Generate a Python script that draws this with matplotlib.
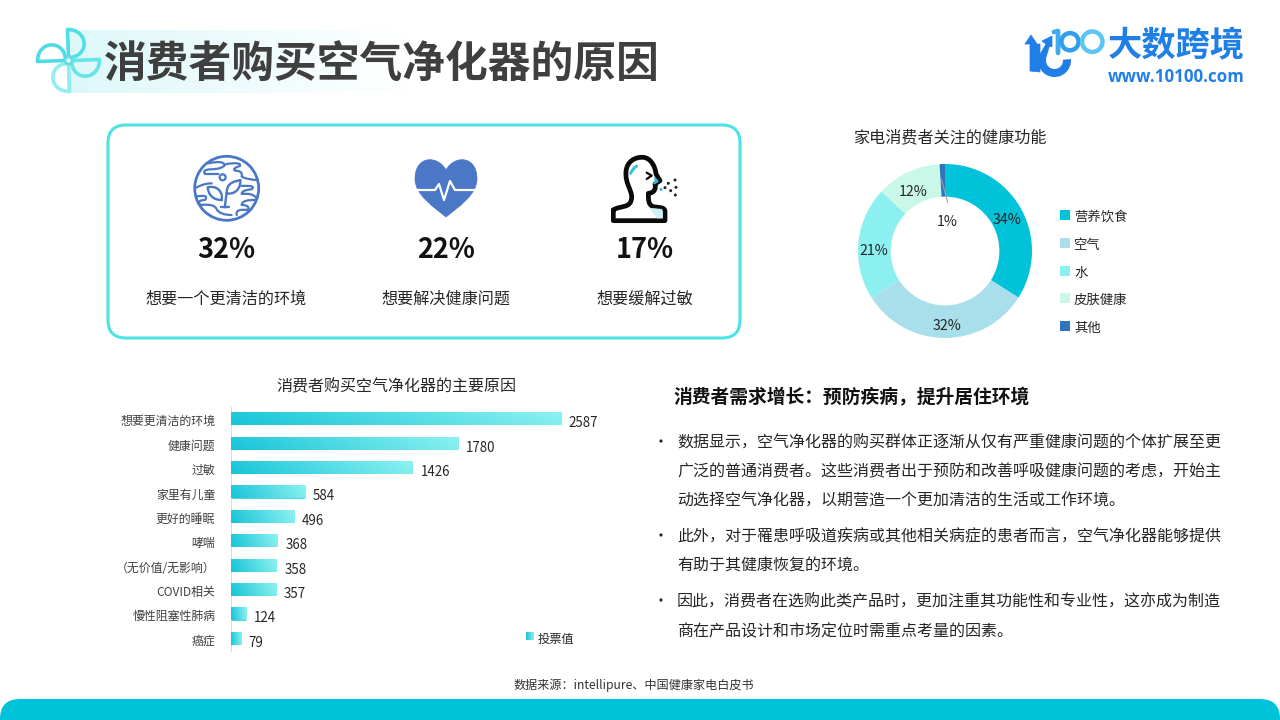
import matplotlib
matplotlib.use("Agg")
import matplotlib.pyplot as plt
import numpy as np
from matplotlib.colors import LinearSegmentedColormap
from matplotlib.patches import Circle, FancyBboxPatch, PathPatch, Rectangle, Wedge
from matplotlib.path import Path
from matplotlib.transforms import Affine2D, ScaledTranslation

plt.rcParams["font.family"] = ["Noto Sans CJK SC", "DejaVu Sans"]

W, H = 1280, 720

title = "消费者购买空气净化器的原因"
kpi_values = ["32%", "22%", "17%"]
kpi_captions = ["想要一个更清洁的环境", "想要解决健康问题", "想要缓解过敏"]

bar_title = "消费者购买空气净化器的主要原因"
bar_labels = ["想要更清洁的环境", "健康问题", "过敏", "家里有儿童", "更好的睡眠", "哮喘",
              "（无价值/无影响）", "COVID相关", "慢性阻塞性肺病", "癌症"]
bar_values = [2587, 1780, 1426, 584, 496, 368, 358, 357, 124, 79]

pie_title = "家电消费者关注的健康功能"
pie_labels = ["营养饮食", "空气", "水", "皮肤健康", "其他"]
pie_values = [34, 32, 21, 12, 1]
pie_colors = ["#00C3D9", "#A9DFEA", "#8DF0F0", "#C9F7E8", "#2F75BE"]

heading = "消费者需求增长：预防疾病，提升居住环境"
body_lines = [
    "数据显示，空气净化器的购买群体正逐渐从仅有严重健康问题的个体扩展至更",
    "广泛的普通消费者。这些消费者出于预防和改善呼吸健康问题的考虑，开始主",
    "动选择空气净化器，以期营造一个更加清洁的生活或工作环境。",
    "此外，对于罹患呼吸道疾病或其他相关病症的患者而言，空气净化器能够提供",
    "有助于其健康恢复的环境。",
    "因此，消费者在选购此类产品时，更加注重其功能性和专业性，这亦成为制造",
    "商在产品设计和市场定位时需重点考量的因素。",
]
body_y = [443, 472, 501, 537, 566, 602, 632]
bullet_y = [441, 535, 600]
source = "数据来源：intellipure、中国健康家电白皮书"

TEXT = "#262626"
BLUE = "#4A78C6"
LOGO = "#1F7FE6"

bar_cmap = LinearSegmentedColormap.from_list("bar", ["#16C4D8", "#8DF2F0"])
band_cmap = LinearSegmentedColormap.from_list("band", ["#DDF8F9", "#FFFFFF"])

fig = plt.figure(figsize=(W / 100, H / 100), dpi=100, facecolor="white")


def px_axes(x0, y0, x1, y1):
    # axes placed by pixel box, y counted from the top of the image
    return fig.add_axes([x0 / W, 1 - y1 / H, (x1 - x0) / W, (y1 - y0) / H])


# page overlay in pixel coordinates
bg = fig.add_axes([0, 0, 1, 1])
bg.set_xlim(0, W)
bg.set_ylim(H, 0)
bg.axis("off")


def stroke(verts, codes=None, color=BLUE, lw=2.0, fill="none", z=3, clip=None):
    p = PathPatch(Path(verts, codes), facecolor=fill, edgecolor=color, linewidth=lw,
                  capstyle="round", joinstyle="round", zorder=z)
    bg.add_patch(p)
    if clip is not None:
        p.set_clip_path(clip)
    return p


def wavy(points, **kw):
    # smooth stroke through control points, drawn as quadratic pieces
    codes = [Path.MOVETO] + [Path.CURVE3] * (len(points) - 1)
    if len(points) % 2 == 0:
        codes[-1] = Path.LINETO
    return stroke(points, codes, **kw)


# title band and fan icon
bg.imshow(np.linspace(0, 1, 256).reshape(1, -1), extent=(67, 410, 93, 30), cmap=band_cmap,
          aspect="auto", zorder=1)
bg.set_xlim(0, W)
bg.set_ylim(H, 0)
C, L = Path.CURVE4, Path.LINETO
blade = [(0, -3), (-1, -31), (21, -31), (21, -3), (0, -3)]
blade_codes = [Path.MOVETO, L, C, C, C]
fan_colors = ["#52DEE6", "#66E4EA", "#8FEEF0", "#4FDBE4"]
for k, col in enumerate(fan_colors):
    tr = Affine2D().rotate_deg(90 * k).translate(68.5, 60.5)
    stroke(tr.transform(np.array(blade, float)), blade_codes, color=col, lw=2.6, z=2)
bg.add_patch(Circle((68.5, 60.5), 3.5, facecolor="white", edgecolor="#5FE0E8", lw=2, zorder=3))
bg.text(104, 64, title, fontsize=30.8, fontweight="bold", color="#3F3F3F", va="center", ha="left", zorder=4)

# logo
bg.add_patch(Wedge((1054.5, 60.5), 16.5, -5, 200, width=8, facecolor=LOGO, zorder=3))
stroke([(1025, 44), (1031, 35), (1037, 44), (1040, 44), (1040, 72), (1030, 71), (1030, 44), (1025, 44)],
       color=LOGO, fill=LOGO, lw=0.5)
stroke([(1038.5, 57), (1046, 44), (1042, 41), (1052, 36), (1052, 47), (1049.5, 46), (1046, 57), (1038.5, 57)],
       color=LOGO, fill=LOGO, lw=0.5)
stroke([(1054, 32), (1058, 31), (1058, 53)], color="#3FAAF0", lw=3.4)
for cx, r, col in [(1070, 8.6, "#2F9FEE"), (1092.3, 10.2, "#5CC5F5")]:
    bg.add_patch(Circle((cx, 41.7), r, facecolor="none", edgecolor=col, lw=3.2, zorder=3))
bg.text(1176, 45, "大数跨境", fontsize=24.7, fontweight="bold", color=LOGO, ha="center", va="center")
bg.text(1176.5, 76.5, "www.10100.com", fontsize=12.2, fontweight="bold", color=LOGO, ha="center", va="center",
        family=["Open Sans", "DejaVu Sans"])

# KPI box
bg.add_patch(FancyBboxPatch((108, 125), 632, 213, boxstyle="round,pad=0,rounding_size=18",
                            facecolor="white", edgecolor="#4FE2E4", lw=2.2, zorder=2))
for x, val, cap in zip([226, 446, 645], kpi_values, kpi_captions):
    bg.text(x, 250, val, fontsize=19.5, fontweight="bold", color="#111111", ha="center", va="center", zorder=4)
    bg.text(x, 299.5, cap, fontsize=11.6, color=TEXT, ha="center", va="center", zorder=4)


def gz(x, y):
    # globe zoom crop to page pixels
    return (x / 3 + 185, y / 3 + 150)


def hz(x, y):
    # head zoom crop to page pixels
    return (x / 3 + 600, y / 3 + 150)


# globe icon
globe = Circle((226.7, 188.3), 32, facecolor="white", edgecolor=BLUE, lw=2, zorder=3)
bg.add_patch(globe)
for pts in [
    [(70, 40), (115, 30), (120, 45), (110, 58), (75, 58), (50, 60), (60, 72), (85, 72), (100, 72)],
    [(125, 42), (170, 35), (165, 48), (140, 55), (150, 62), (175, 62), (170, 80), (190, 90), (220, 90)],
    [(170, 108), (215, 105), (200, 118), (170, 120), (170, 132), (205, 128), (215, 145)],
    [(30, 115), (55, 100), (80, 100)],
    [(30, 140), (75, 132), (60, 150), (35, 150), (45, 165), (90, 160), (95, 178), (105, 195), (140, 195)],
    [(215, 150), (170, 148), (170, 165), (195, 165), (190, 180), (150, 175), (155, 195)],
]:
    wavy([gz(*p) for p in pts], lw=1.6, z=4, clip=globe)
bg.add_patch(Circle(gz(113, 82), 3, facecolor="none", edgecolor=BLUE, lw=1.6, zorder=4))
stroke([gz(120, 172), gz(121, 150), gz(125, 130)], [Path.MOVETO, Path.CURVE3, Path.CURVE3], lw=1.7, z=4)
for leaf in ([gz(125, 130), gz(125, 95), gz(150, 95), gz(166, 90), gz(168, 115), gz(150, 135), gz(125, 130)],
             [gz(110, 150), gz(85, 150), gz(70, 135), gz(68, 112), gz(95, 105), gz(115, 125), gz(110, 150)]):
    stroke(leaf, [Path.MOVETO, C, C, C, C, C, C], lw=1.7, z=4)
stroke([gz(108, 172), gz(132, 172)], lw=1.7, z=4)

# heart icon
heart = [(446, 170), (438, 155), (415, 155), (415, 179), (415, 195), (435, 208), (446, 217),
         (457, 208), (477, 195), (477, 179), (477, 155), (454, 155), (446, 170)]
stroke(heart, [Path.MOVETO] + [C] * 12, color=BLUE, fill=BLUE, lw=0.5)
stroke([(415, 190), (435, 190), (439, 184), (444, 200), (450, 181), (455, 190), (477, 190)],
       color="white", lw=1.6, z=4)

# head icon
head = [(40, 180),
        (60, 165), (95, 178), (95, 140),
        (95, 120), (75, 100), (78, 65),
        (80, 35), (105, 20), (130, 22),
        (150, 24), (165, 45), (168, 72),
        (180, 92), (165, 102),
        (168, 115), (165, 128), (145, 130),
        (145, 150), (145, 165), (160, 170),
        (175, 173), (195, 170), (195, 185),
        (195, 212), (40, 212), (40, 180)]
head_codes = [Path.MOVETO] + [C] * 12 + [L, L] + [C] * 9 + [L, L, L]
stroke([hz(*p) for p in head], head_codes, color="#0A0A0A", lw=3.4, fill="white", z=4)
stroke([hz(150, 175), hz(186, 178), hz(188, 204), hz(172, 204), hz(150, 175)], color="#CDF2F6", fill="#CDF2F6",
       lw=0.5, z=5)
stroke([hz(165, 85), hz(173, 94), hz(163, 100)], color="#2CB9D5", fill="#2CB9D5", lw=1.5, z=5)
stroke([hz(92, 70), hz(96, 58), hz(110, 48)], [Path.MOVETO, Path.CURVE3, Path.CURVE3], color="#3CC3DC", lw=2.2, z=5)
stroke([hz(140, 68), hz(155, 77), hz(140, 87)], color="#0A0A0A", lw=1.6, z=5)
for p, col in [((225, 90), "#222222"), ((205, 100), "#222222"), ((228, 112), "#222222"), ((195, 113), "#222222"),
               ((212, 122), "#222222"), ((226, 135), "#222222"), ((183, 118), "#2CB9D5")]:
    bg.add_patch(Circle(hz(*p), 1.5, facecolor=col, edgecolor="none", zorder=5))

# donut
pie_ax = px_axes(858, 164, 1032, 338)
wedges, _, autotexts = pie_ax.pie(pie_values, colors=pie_colors, startangle=90, counterclock=False,
                                  radius=1, autopct="%d%%", pctdistance=0.81,
                                  wedgeprops={"width": 0.375}, textprops={"fontsize": 10.2, "color": TEXT})
for txt, shift in zip(autotexts[:4], [(0, -3), (2, -5), (-1, -7), (-2, -5)]):
    x, y = txt.get_position()
    txt.set_position((x + shift[0] / 87, y + shift[1] / 87))
autotexts[4].set_position((0.02, 0.33))
pie_ax.plot([-0.04, 0.03], [0.82, 0.56], color="#A0A0A0", lw=0.8)
pie_ax.set_xlim(-1, 1)
pie_ax.set_ylim(-1, 1)
bg.text(949.5, 138, pie_title, fontsize=11.6, color=TEXT, ha="center", va="center")
for y, lab, col in zip([215, 243, 271, 298, 326], pie_labels, pie_colors):
    bg.add_patch(Rectangle((1060, y - 5), 10, 10, facecolor=col, edgecolor="none"))
    bg.text(1074, y + 1.5, lab, fontsize=9.6, color=TEXT, ha="left", va="center")

# bar chart
bar_ax = px_axes(230.5, 407, 610, 651)
ypos = np.arange(len(bar_values))
bars = bar_ax.barh(ypos, bar_values, height=0.5, color="#4FD9E2")
grad_x, grad_y = np.meshgrid(np.linspace(0, 1, 256), np.linspace(0, 1, 16))
for bar in bars:
    x0, y0 = bar.get_x(), bar.get_y()
    bar_ax.imshow(grad_x * 0.9 + (1 - grad_y) * 0.1, extent=(x0, x0 + bar.get_width(), y0 + bar.get_height(), y0),
                  cmap=bar_cmap, aspect="auto", zorder=3, vmin=0, vmax=1)
for y, v in zip(ypos, bar_values):
    bar_ax.annotate(str(v), (v, y), xytext=(8, -4), textcoords="offset pixels", fontsize=9.6,
                    color=TEXT, ha="left", va="center")
bar_ax.set_xlim(0, 379.5 / 0.1276)
bar_ax.set_ylim(9.5, -0.5)
bar_ax.set_xticks([])
bar_ax.set_yticks(ypos, bar_labels, fontsize=8.6, color="#404040")
bar_ax.tick_params(axis="y", length=0, pad=11)
for lab in bar_ax.get_yticklabels():
    lab.set_transform(lab.get_transform() + ScaledTranslation(0, -1 / 100, fig.dpi_scale_trans))
for side in ("top", "right", "bottom"):
    bar_ax.spines[side].set_visible(False)
bar_ax.spines["left"].set_color("#DDDDDD")
bar_ax.patch.set_alpha(0)
bg.text(396.5, 387, bar_title, fontsize=11.5, color=TEXT, ha="center", va="center")
bg.imshow(grad_x, extent=(526, 534, 640, 632), cmap=bar_cmap, aspect="auto", zorder=3)
bg.set_xlim(0, W)
bg.set_ylim(H, 0)
bg.text(538, 639, "投票值", fontsize=8.8, color=TEXT, ha="left", va="center")

# text block
bg.text(673.5, 398, heading, fontsize=13.5, fontweight="bold", color="#111111", ha="left", va="center")
for y in bullet_y:
    bg.add_patch(Circle((661, y), 1.6, facecolor="#222222", edgecolor="none"))
for y, line in zip(body_y, body_lines):
    bg.text(677, y, line, fontsize=11.5, color=TEXT, ha="left", va="center")

# footer
bg.text(634, 685.5, source, fontsize=8.7, color="#333333", ha="center", va="center")
bg.add_patch(FancyBboxPatch((0, 699), W, 60, boxstyle="round,pad=0,rounding_size=20",
                            facecolor="#00C2D8", edgecolor="none", zorder=2))

fig.savefig("out.png", dpi=100)
